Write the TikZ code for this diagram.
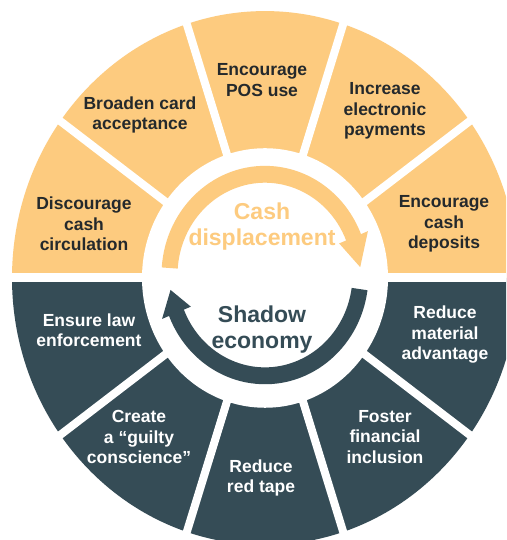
\documentclass[tikz,border=0pt]{standalone}
\usepackage{fontspec}
\setmainfont{Liberation Sans}
\definecolor{cashorange}{HTML}{FDCB7F}
\definecolor{shadowslate}{HTML}{354C56}
\definecolor{inkdark}{HTML}{24292C}
\begin{document}
\begin{tikzpicture}[x=1pt,y=1pt,
  lever/.style={font=\bfseries\fontsize{17.5}{20.5}\selectfont, align=center, inner sep=0pt},
  onlight/.style={lever, text=inkdark},
  ondark/.style={lever, text=white},
  hub/.style={font=\bfseries\fontsize{23}{26}\selectfont, align=center, inner sep=0pt},
  gap/.style={white, line width=8pt}]
\useasboundingbox (0,0) rectangle (506,540);
\clip (0,0) rectangle (506,540);
\fill[white] (0,0) rectangle (506,540);

% wheel of ten levers: upper half cash displacement, lower half shadow economy
\begin{scope}[shift={(265,262)}, yscale=1.055]
  \fill[cashorange] (0,0) -- (0:253) arc[start angle=0, end angle=180, radius=253] -- cycle;
  \fill[shadowslate] (0,0) -- (180:253) arc[start angle=180, end angle=360, radius=253] -- cycle;
  \foreach \a in {36,72,...,324} \draw[gap] (0,0) -- (\a:270);
  \draw[gap, line width=9pt] (-270,0) -- (270,0);
  \fill[white] (0,0) circle[radius=123];
  % the two circular arrows of the cycle
  \begin{scope}[shift={(0,2.8)}]
    \fill[cashorange] (176:103.5) arc[start angle=176, end angle=22, radius=103.5]
      -- (22:111) -- (4.5:95.5) -- (22:80) -- (22:87.5)
      arc[start angle=22, end angle=176, radius=87.5] -- cycle;
    \fill[shadowslate] (-8:103.5) arc[start angle=-8, end angle=-158, radius=103.5]
      -- (-158:111) -- (-171.5:95.5) -- (-158:80) -- (-158:87.5)
      arc[start angle=-158, end angle=-8, radius=87.5] -- cycle;
  \end{scope}
\end{scope}

% lever labels
\node[onlight] (disc) at (84,316) {Discourage\\cash\\circulation};
\node[onlight] (broad) at (140,425) {Broaden card\\acceptance};
\node[onlight] (pos) at (262,460) {Encourage\\POS use};
\node[onlight] (incr) at (385,429) {Increase\\electronic\\payments};
\node[onlight] (depo) at (444,316) {Encourage\\cash\\deposits};
\node[ondark] (ensure) at (89,210) {Ensure law\\enforcement};
\node[ondark] (create) at (139,103) {Create\\a “guilty\\conscience”};
\node[ondark] (redtape) at (261,62) {Reduce\\red tape};
\node[ondark] (foster) at (385,103) {Foster\\financial\\inclusion};
\node[ondark] (material) at (445,205) {Reduce\\material\\advantage};

% hub labels
\node[hub, text=cashorange] (cash) at (262,313) {Cash\\displacement};
\node[hub, text=shadowslate] (shadow) at (262,210) {Shadow\\economy};
\end{tikzpicture}
\end{document}
